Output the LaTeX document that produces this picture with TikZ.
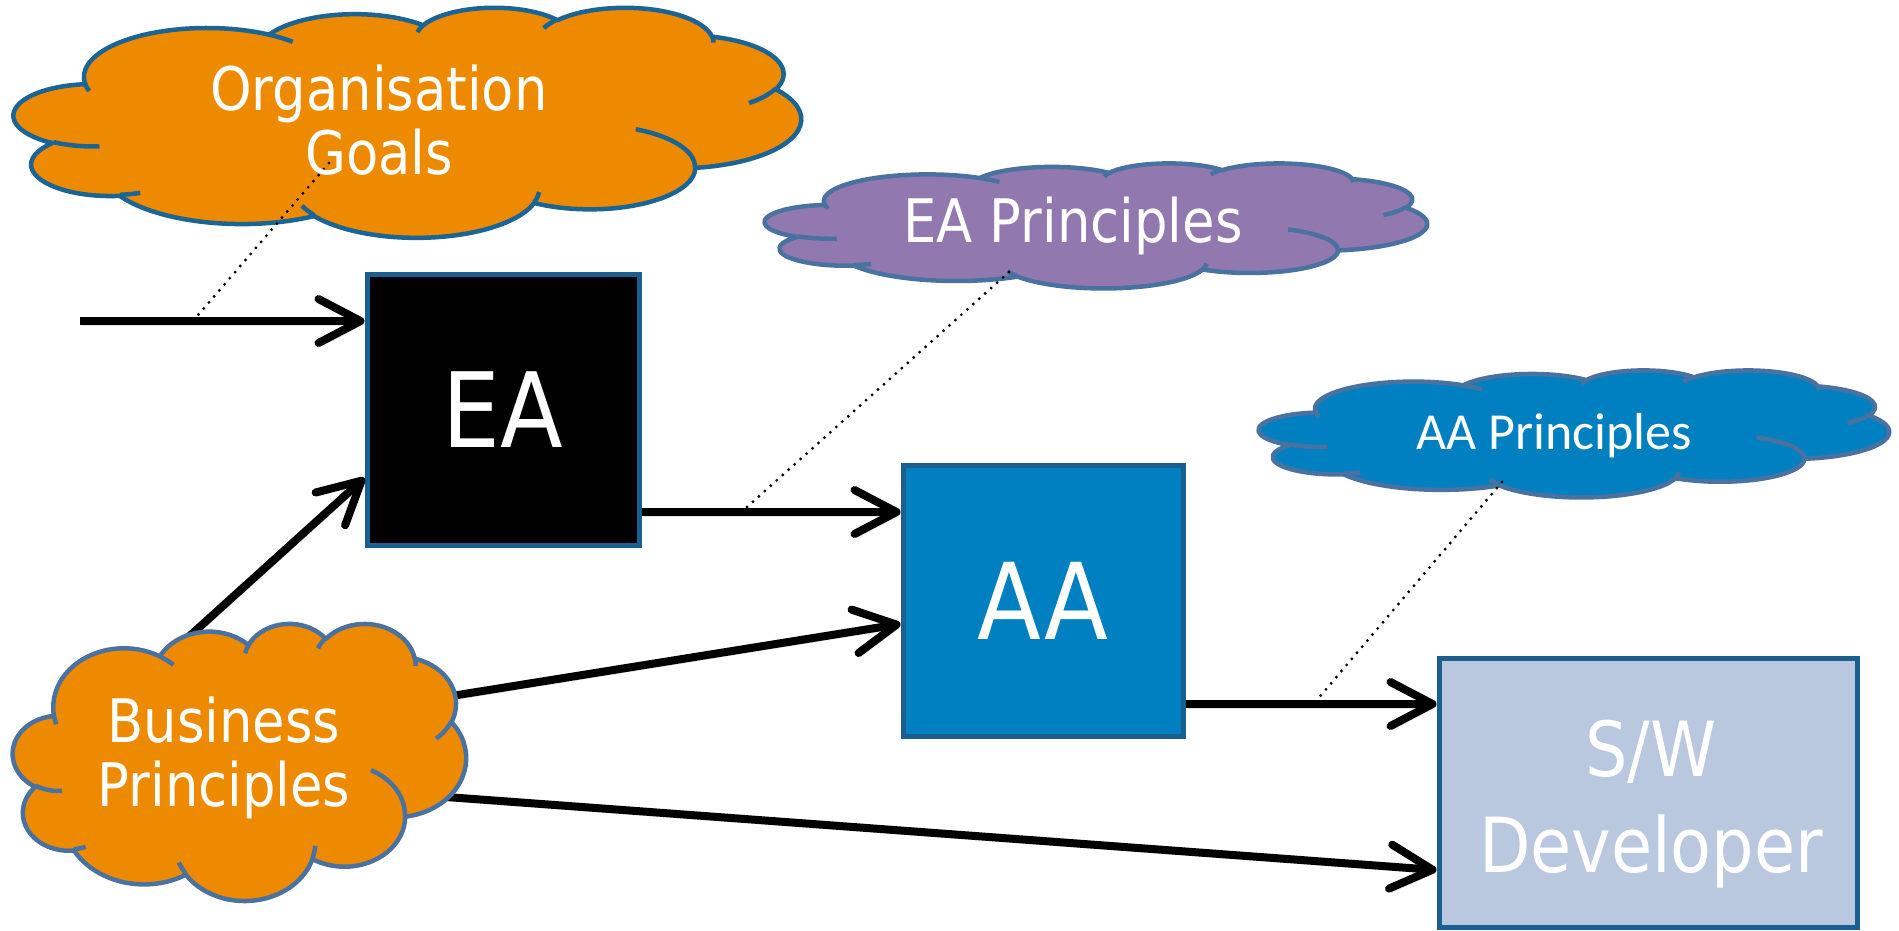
\documentclass[tikz,border=0pt]{standalone}
\usepackage{fontspec}
\usetikzlibrary{arrows.meta,calc}
\newfontfamily\vf[FakeStretch=0.88]{DejaVu Sans}
\newfontfamily\cf{Carlito}
\definecolor{orangeF}{HTML}{EE8A00}
\definecolor{orgB}{HTML}{1A6496}
\definecolor{steelB}{HTML}{4A72A0}
\definecolor{purpleF}{HTML}{9179B0}
\definecolor{blueF}{HTML}{0080C0}
\definecolor{boxB}{HTML}{1B5F8F}
\definecolor{swF}{HTML}{B9C8DF}
\tikzset{
  cloudline/.style={line width=4.5pt, line join=round},
  boxnode/.style={rectangle, draw=boxB, line width=5pt, inner sep=0pt, text=white, align=center},
  cloudtext/.style={text=white, align=center, inner sep=0pt, font=\vf\fontsize{60}{64}\selectfont},
  arr/.style={line width=8pt, draw=black, -{Straight Barb[length=42pt,width=44pt,round]},
    preaction={draw=black!60, opacity=0.18, transform canvas={shift={(2pt,-4pt)}}}},
  dotline/.style={line width=3.2pt, line cap=round, dash pattern=on 0pt off 8pt, draw=black},
}
% PowerPoint-like cloud: left, top, width, height, fill, border
\newcommand{\pptcloud}[6]{%
  \begin{scope}[shift={(#1,#2)}, xscale=#3/432, yscale=#4/432]
    \path[fill=#5, draw=#6, cloudline] (39.00,143.70)
      \foreach \rx/\ry/\st/\sw [evaluate=\st as \ta using {atan2(\rx*sin(\st),\ry*cos(\st))},
                                evaluate=\sw as \tb using {atan2(\rx*sin(\st+\sw),\ry*cos(\st+\sw))},
                                evaluate=\sw as \dd using {mod(\tb-(\ta)+720,360)}]
      in {67.53/91.90/-190.487/123.781, 53.33/72.67/-144.102/89.945, 43.65/59.45/-145.808/99.723,
          48.57/65.95/-130.986/117.242, 53.33/72.73/-78.709/109.027, 67.75/92.20/-46.267/130.269,
          57.85/78.67/0.625/114.033, 67.52/92.15/22.452/115.173, 77.20/105.43/66.243/75.711,
          43.60/59.18/-274.942/146.736, 43.45/59.45/-246.829/152.519}
      { arc[start angle=\ta, delta angle=\dd, x radius=\rx, y radius=\ry] } -- cycle;
    \path[draw=#6, cloudline, line cap=butt]
      \foreach \px/\py/\rx/\ry/\st/\sw [evaluate=\st as \ta using {atan2(\rx*sin(\st),\ry*cos(\st))},
                                evaluate=\sw as \tb using {atan2(\rx*sin(\st+\sw),\ry*cos(\st+\sw))},
                                evaluate=\sw as \dd using {mod(\tb-(\ta)+720,360)}]
      in {46.93/261.77/43.45/59.45/86.742/26.430, 69.28/348.99/43.60/59.18/73.610/11.447,
          164.78/390.90/67.52/92.15/137.624/14.081, 288.27/347.51/67.52/92.15/6.453/15.998,
          341.29/229.54/57.85/78.67/-70.292/70.917, 417.98/153.54/53.33/72.73/30.318/27.752,
          383.24/54.26/48.57/65.95/-13.744/14.859, 290.78/39.52/48.57/65.95/-149.181/18.195,
          221.41/47.20/43.65/59.45/-163.494/17.686, 140.00/51.92/67.53/91.90/-66.707/12.319,
          41.27/157.89/67.53/91.90/157.654/11.858}
      { (\px,\py) arc[start angle=\ta, delta angle=\dd, x radius=\rx, y radius=\ry] };
  \end{scope}}
\begin{document}
\begin{tikzpicture}[x=1pt,y=-1pt]
\useasboundingbox (0,0) rectangle (1899,930);
% boxes
\node[boxnode, fill=black, minimum width=272pt, minimum height=271pt, font=\vf\fontsize{104}{110}\selectfont] (ea) at (503,409.5) {EA};
\node[boxnode, fill=blueF, minimum width=280pt, minimum height=271pt, font=\vf\fontsize{106}{110}\selectfont] (aa) at (1043,600.5) {AA};
\node[boxnode, fill=swF, minimum width=418pt, minimum height=269pt] (sw) at (1648,792.5) {};
\node[text=white, align=center, inner sep=0pt, font=\vf\fontsize{76}{96}\selectfont] (swtxt) at (1651,804) {S/W\\Developer};
% arrows (start points of cloud arrows hidden under the cloud)
\coordinate (in) at (80,321);
\coordinate (bp1) at (183,642);
\coordinate (bp2) at (439,698);
\coordinate (bp3) at (433,796);
\draw[arr] (in) -- coordinate[pos=0.397] (d1) (ea.west |- in);
\draw[arr] (bp1) -- (ea.west |- 0,478);
\draw[arr] (ea.east |- 0,512) -- coordinate[pos=0.386] (d2) (aa.west |- 0,512);
\draw[arr] (bp2) -- (aa.west |- 0,624);
\draw[arr] (aa.east |- 0,704) -- coordinate[pos=0.51] (d3) (sw.west |- 0,704);
\draw[arr] (bp3) -- (sw.west |- 0,870);
% clouds
\pptcloud{14}{7}{787}{230}{orangeF}{orgB}
\pptcloud{765}{163}{662}{125}{purpleF}{steelB}
\pptcloud{1259}{370}{630}{127}{blueF}{steelB}
\pptcloud{13}{623}{453}{277}{orangeF}{steelB}
% dotted links
\coordinate (o1) at (329,163);
\coordinate (o2) at (1009,272);
\coordinate (o3) at (1502,482);
\draw[dotline] (o1) -- (d1);
\draw[dotline] (o2) -- (d2);
\draw[dotline] (o3) -- (d3);
% cloud texts
\node[cloudtext] (orgtxt) at (379,120) {Organisation\\Goals};
\node[cloudtext] (eaptxt) at (1073,226) {EA Principles};
\node[cloudtext, font=\cf\fontsize{52}{56}\selectfont] (aaptxt) at (1554,436) {AA Principles};
\node[cloudtext] (bptxt) at (224,758) {Business\\Principles};
\end{tikzpicture}
\end{document}
